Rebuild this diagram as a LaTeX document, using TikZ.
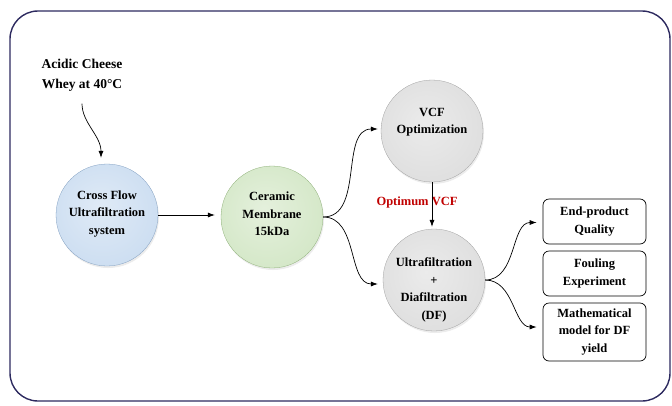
\documentclass[tikz,border=0pt]{standalone}
\usepackage{fontspec}
\setmainfont{Liberation Serif}[BoldFont={Liberation Serif Bold}]
\usepackage{xcolor}
\usepackage{tikz}
\usetikzlibrary{arrows.meta,shadows,positioning}
\definecolor{cfblue}{RGB}{150,186,226}
\definecolor{cmgreen}{RGB}{166,206,140}
\definecolor{vcfgrey}{RGB}{188,188,188}
\definecolor{optred}{RGB}{192,0,0}
\definecolor{framecol}{RGB}{45,42,95}
\newcommand{\softshade}[1]{\pgfdeclareradialshading{#1shade}{\pgfpoint{-4bp}{4bp}}{color(0bp)=(#1!30); color(28bp)=(#1!48); color(44bp)=(#1!72); color(50bp)=(#1!95)}}
\softshade{cfblue}
\softshade{cmgreen}
\softshade{vcfgrey}

\begin{document}
\begin{tikzpicture}[x=1pt,y=1pt,
		txt/.style={font=\bfseries\fontsize{12.5}{17.5}\selectfont,align=center},
		ball/.style={circle,minimum size=102pt,inner sep=0pt,shading=#1shade,draw=#1!85!black,line width=0.3pt,drop shadow={opacity=0.15,shadow xshift=1pt,shadow yshift=-2pt}},
		resultbox/.style={txt,draw,rounded corners=6pt,minimum width=103pt,inner sep=2pt,line width=0.7pt},
		arr/.style={-{Latex[length=7pt,width=5pt]},line width=0.7pt}]
		\useasboundingbox (0,0) rectangle (672,-405);
		\draw[framecol,line width=1.4pt,rounded corners=28pt] (10,-11) rectangle (670,-401);
		% feed
		\node[txt,font=\bfseries\fontsize{13.5}{20}\selectfont] (whey) at (82,-75) {Acidic Cheese\\Whey at 40°C};
		% circles
		\node[ball=cfblue,label={[txt,yshift=1pt]center:{Cross Flow\\Ultrafiltration\\system}}] (cf) at (107,-215) {};
		\node[ball=cmgreen,label={[txt,yshift=3pt]center:{Ceramic\\Membrane\\15kDa}}] (cm) at (272,-217) {};
		\node[ball=vcfgrey,label={[txt,yshift=9pt]center:{VCF\\Optimization}}] (vcf) at (432,-131) {};
		\node[ball=vcfgrey,label={[txt,yshift=-10pt]center:{Ultrafiltration\\+\\Diafiltration\\(DF)}}] (uf) at (434,-280) {};
		\node[txt,text=optred] (opt) at (417,-202) {Optimum VCF};
		% results
		\node[resultbox,minimum height=45pt] (endq) at (594.5,-221.5) {End-product\\Quality};
		\node[resultbox,minimum height=45pt] (foul) at (594.5,-273.5) {Fouling\\Experiment};
		\node[resultbox,minimum height=58pt] (mathm) at (594.5,-332) {Mathematical\\model for DF\\yield};
		% arrows
		\draw[arr,shorten <=9pt,shorten >=6pt] (whey.south) to[out=-90,in=90] ([xshift=-6pt]cf.north);
		\draw[arr,shorten >=6pt] (cf.east) -- (cf.east -| cm.west);
		\draw[arr,shorten >=3pt] (cm.east) to[out=0,in=180] ([yshift=2pt]vcf.west);
		\draw[arr,shorten >=5pt] (cm.east) to[out=0,in=180] ([yshift=-4pt]uf.west);
		\draw[arr,shorten >=2pt] (vcf.south) -- (vcf.south |- uf.north);
		\draw[arr,shorten >=6pt] (uf.east) to[out=0,in=180] ([yshift=-1pt]endq.west);
		\draw[arr,shorten >=6pt] (uf.east) to[out=0,in=180] ([yshift=5pt]mathm.west);
	\end{tikzpicture}
\end{document}
